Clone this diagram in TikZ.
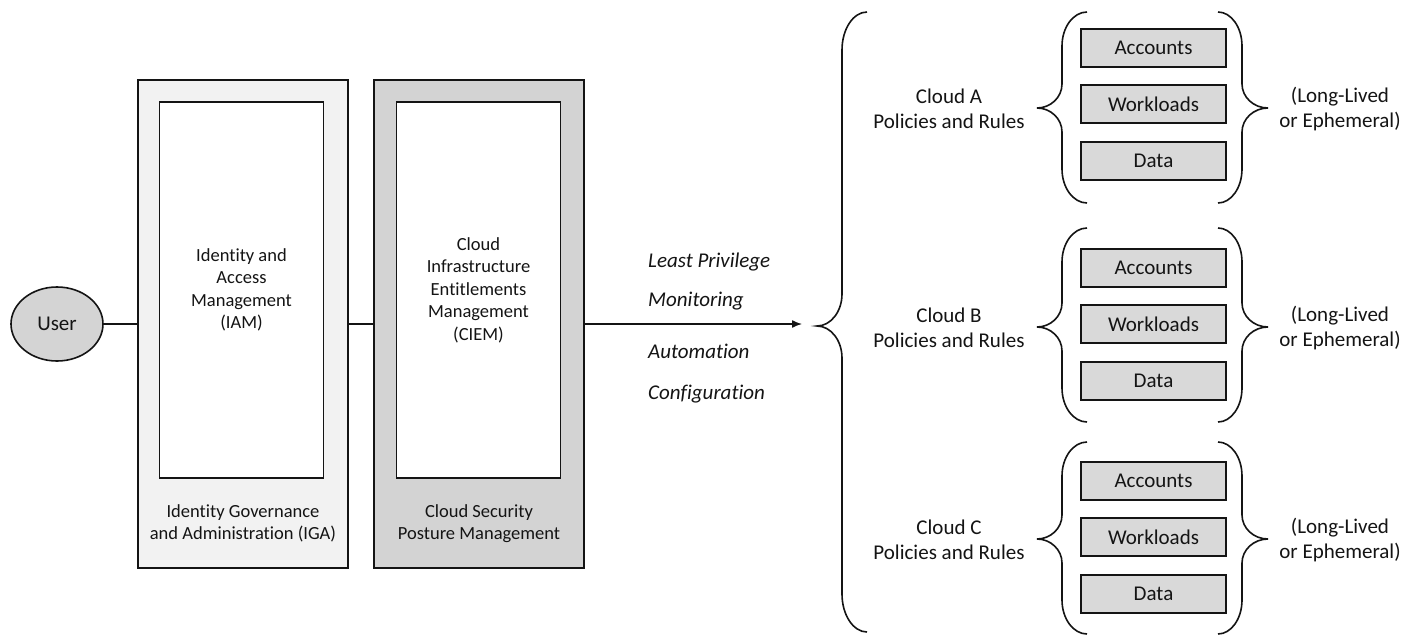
\documentclass[tikz,border=0pt]{standalone}
\usepackage{fontspec}
\setmainfont{Carlito}[Ligatures={NoCommon}]
\usetikzlibrary{shapes.geometric,arrows.meta}
\definecolor{igafill}{HTML}{F2F2F2}
\definecolor{cspmfill}{HTML}{D3D3D3}
\definecolor{userfill}{HTML}{D4D4D4}
\definecolor{itemfill}{HTML}{D9D9D9}
\definecolor{ink}{HTML}{141414}
% #1 curl-end x, #2 spine x, #3 tip x, #4 top y, #5 tip y, #6 bottom y, #7 end radius, #8 tip radius
\newcommand{\drawbrace}[8]{%
  \draw[bracestyle] (#1,#4)
    .. controls ({#2+0.45*(#1-#2)},#4) and (#2,{#4+0.45*#7}) .. (#2,{#4+#7})
    -- (#2,{#5-#8})
    .. controls (#2,{#5-0.45*#8}) and ({#3+0.55*(#2-#3)},#5) .. (#3,#5)
    .. controls ({#3+0.55*(#2-#3)},#5) and (#2,{#5+0.45*#8}) .. (#2,{#5+#8})
    -- (#2,{#6-#7})
    .. controls (#2,{#6-0.45*#7}) and ({#2+0.45*(#1-#2)},#6) .. (#1,#6);}
\begin{document}
\begin{tikzpicture}[x=1pt,y=-1pt,
  outerbox/.style={draw=ink, line width=1.7pt, minimum width=210pt, minimum height=488pt, inner sep=0pt},
  innerbox/.style={draw=ink, fill=white, line width=1.7pt, minimum width=164pt, minimum height=376pt, align=center, font=\fontsize{18.5}{22.5}\selectfont, text=ink},
  boxlabel/.style={align=center, font=\fontsize{18.5}{22}\selectfont, text=ink},
  userstyle/.style={ellipse, draw=ink, fill=userfill, line width=1.6pt, minimum width=92pt, minimum height=74pt, inner sep=0pt, font=\fontsize{21}{25}\selectfont, text=ink},
  itembox/.style={draw=ink, fill=itemfill, line width=1.5pt, minimum width=145pt, minimum height=38pt, inner sep=0pt, font=\fontsize{21}{25}\selectfont, text=ink},
  cloudlabel/.style={align=center, font=\fontsize{21}{25}\selectfont, text=ink},
  flowlabel/.style={anchor=base west, inner sep=0pt, font=\fontsize{21}{25}\selectfont\itshape, text=ink},
  link/.style={draw=ink, line width=1.4pt},
  bracestyle/.style={draw=ink, line width=1.6pt}]
\useasboundingbox (0,0) rectangle (1417,635);
\fill[white] (0,0) rectangle (1417,635);

% left part
\node[userstyle] (user) at (57,324) {User};
\node[outerbox, fill=igafill] (iga) at (243,324) {};
\node[innerbox] (iam) at (241.5,290) {Identity and\\Access\\Management\\(IAM)};
\node[boxlabel] (igalabel) at (243,523) {Identity Governance\\and Administration (IGA)};
\node[outerbox, fill=cspmfill] (cspm) at (479,324) {};
\node[innerbox] (ciem) at (478.5,290) {Cloud\\Infrastructure\\Entitlements\\Management\\(CIEM)};
\node[boxlabel] (cspmlabel) at (479,524) {Cloud Security\\Posture Management};

\draw[link] (user.east) -- (user.east -| iga.west);
\draw[link] (iga.east) -- (cspm.west);
\coordinate (arrowend) at (802,324);
\draw[link, -{Latex[length=10pt,width=8pt]}] (cspm.east) -- (arrowend);

\node[flowlabel] (lp) at (648,267) {Least Privilege};
\node[flowlabel] (mon) at (648,306) {Monitoring};
\node[flowlabel] (aut) at (648,358) {Automation};
\node[flowlabel] (conf) at (648,399) {Configuration};

% big brace
\drawbrace{867}{842}{817}{12}{326}{632}{38}{32}

% clouds
\foreach \cl/\yw/\yt/\ytop/\ybot in {A/104/108/12/203, B/324/327/228/422, C/537/539/442/634} {
  \node[itembox] (acc\cl) at (1153.5,{\yw-56}) {Accounts};
  \node[itembox] (wl\cl) at (1153.5,\yw) {Workloads};
  \node[itembox] (data\cl) at (1153.5,{\yw+57}) {Data};
  \node[cloudlabel] (cloud\cl) at (949,{\yt+1}) {Cloud \cl\\Policies and Rules};
  \node[cloudlabel] (life\cl) at (1340,{\yt+1}) {(Long-Lived\\or Ephemeral)};
  \drawbrace{1087}{1062}{1037}{\ytop}{\yt}{\ybot}{34}{24}
  \drawbrace{1218}{1242}{1268}{\ytop}{\yt}{\ybot}{34}{24}
}
\end{tikzpicture}
\end{document}
